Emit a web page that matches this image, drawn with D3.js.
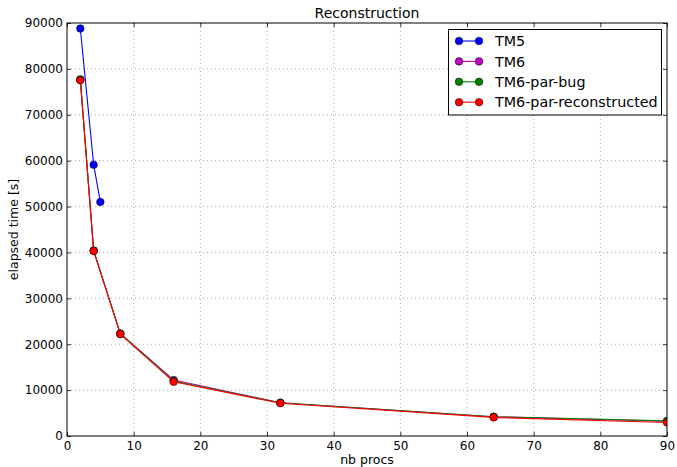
<!DOCTYPE html>
<html>
<head>
<meta charset="utf-8">
<script src="https://cdn.jsdelivr.net/npm/d3@7"></script>
<style>
  html, body { margin: 0; padding: 0; background: #fff; }
  svg { display: block; font-family: "DejaVu Sans", sans-serif; }
</style>
</head>
<body>
<svg id="chart" width="677" height="467"></svg>
<script>
// Elapsed time versus number of processes for each code version
const procsTM5 = [2, 4, 5];
const timeTM5 = [88800, 59100, 51000];

const procsTM6 = [2, 4, 8, 16, 32, 64, 90];
const timeTM6 = [77700, 40400, 22300, 12200, 7250, 4200, 3200];
const timeTM6ParBug = [77700, 40400, 22300, 12000, 7250, 4200, 3300];
const timeTM6ParRecon = [77500, 40300, 22200, 11800, 7150, 4050, 2950];

const seriesNames = ["TM5", "TM6", "TM6-par-bug", "TM6-par-reconstructed"];
const seriesColors = ["#0000ff", "#bf00bf", "#008000", "#ff0000"];

const xTicks = [0, 10, 20, 30, 40, 50, 60, 70, 80, 90];
const yTicks = [0, 10000, 20000, 30000, 40000, 50000, 60000, 70000, 80000, 90000];

const series = [
  { name: seriesNames[0], color: seriesColors[0], xs: procsTM5, ys: timeTM5 },
  { name: seriesNames[1], color: seriesColors[1], xs: procsTM6, ys: timeTM6 },
  { name: seriesNames[2], color: seriesColors[2], xs: procsTM6, ys: timeTM6ParBug },
  { name: seriesNames[3], color: seriesColors[3], xs: procsTM6, ys: timeTM6ParRecon }
];

const svg = d3.select("#chart");
const L = 67, R = 667, T = 23, B = 436;

const x = d3.scaleLinear().domain([0, 90]).range([L, R]);
const y = d3.scaleLinear().domain([0, 90000]).range([B, T]);

svg.append("defs").append("clipPath").attr("id", "plotClip")
  .append("rect").attr("x", L).attr("y", T).attr("width", R - L).attr("height", B - T);

// Dotted grid
const grid = svg.append("g");
grid.selectAll("line.gx").data(xTicks.slice(1, -1)).join("line")
  .attr("x1", d => x(d)).attr("x2", d => x(d)).attr("y1", T).attr("y2", B)
  .attr("stroke", "#000").attr("stroke-opacity", 0.55).attr("stroke-width", 0.6)
  .attr("stroke-dasharray", "1,3");
grid.selectAll("line.gy").data(yTicks.slice(1, -1)).join("line")
  .attr("y1", d => y(d)).attr("y2", d => y(d)).attr("x1", L).attr("x2", R)
  .attr("stroke", "#000").attr("stroke-opacity", 0.55).attr("stroke-width", 0.6)
  .attr("stroke-dasharray", "1,3");

// Series lines and markers
const plot = svg.append("g").attr("clip-path", "url(#plotClip)");
const line = d3.line().x(d => x(d[0])).y(d => y(d[1]));
series.forEach(s => {
  const pts = s.xs.map((v, i) => [v, s.ys[i]]);
  plot.append("path").datum(pts).attr("d", line)
    .attr("fill", "none").attr("stroke", s.color).attr("stroke-width", 1.1);
  plot.selectAll(null).data(pts).join("circle")
    .attr("cx", d => x(d[0])).attr("cy", d => y(d[1])).attr("r", 3.8)
    .attr("fill", s.color).attr("stroke", "#000").attr("stroke-width", 0.5);
});

// Axes with inward ticks on all four sides
const fontSize = 12;
const xAxisB = d3.axisBottom(x).tickValues(xTicks).tickSizeInner(-4).tickSizeOuter(0).tickPadding(5);
const xAxisT = d3.axisTop(x).tickValues(xTicks).tickSizeInner(-4).tickSizeOuter(0).tickFormat("");
const yAxisL = d3.axisLeft(y).tickValues(yTicks).tickSizeInner(-4).tickSizeOuter(0).tickPadding(4).tickFormat(d3.format("d"));
const yAxisR = d3.axisRight(y).tickValues(yTicks).tickSizeInner(-4).tickSizeOuter(0).tickFormat("");

function styleAxis(g) {
  g.select(".domain").remove();
  g.selectAll(".tick line").attr("stroke", "#000").attr("stroke-width", 0.8);
  g.selectAll(".tick text").attr("fill", "#000").attr("font-size", fontSize)
    .attr("font-family", "DejaVu Sans, sans-serif");
}
svg.append("g").attr("transform", `translate(0,${B})`).call(xAxisB).call(styleAxis);
svg.append("g").attr("transform", `translate(0,${T})`).call(xAxisT).call(styleAxis);
svg.append("g").attr("transform", `translate(${L},0)`).call(yAxisL).call(styleAxis);
svg.append("g").attr("transform", `translate(${R},0)`).call(yAxisR).call(styleAxis);

// Frame
svg.append("rect").attr("x", L).attr("y", T).attr("width", R - L).attr("height", B - T)
  .attr("fill", "none").attr("stroke", "#000").attr("stroke-width", 1);

// Titles
svg.append("text").attr("x", (L + R) / 2).attr("y", 18).attr("text-anchor", "middle")
  .attr("font-size", 14).text("Reconstruction");
svg.append("text").attr("x", (L + R) / 2).attr("y", 464).attr("text-anchor", "middle")
  .attr("font-size", 12.5).text("nb procs");
svg.append("text").attr("transform", `translate(18,${(T + B) / 2}) rotate(-90)`)
  .attr("text-anchor", "middle").attr("font-size", 12.5).text("elapsed time [s]");

// Legend
const lg = svg.append("g");
lg.append("rect").attr("x", 448.5).attr("y", 29.5).attr("width", 213).attr("height", 85.5)
  .attr("fill", "#fff").attr("stroke", "#000").attr("stroke-width", 1);
series.forEach((s, i) => {
  const yy = 41 + i * 20.4;
  lg.append("line").attr("x1", 459).attr("x2", 479).attr("y1", yy).attr("y2", yy)
    .attr("stroke", s.color).attr("stroke-width", 1.1);
  [459, 479].forEach(cx => lg.append("circle").attr("cx", cx).attr("cy", yy).attr("r", 3.8)
    .attr("fill", s.color).attr("stroke", "#000").attr("stroke-width", 0.5));
  lg.append("text").attr("x", 495).attr("y", yy + 5.2).attr("font-size", 14.3).text(s.name);
});
</script>
</body>
</html>
